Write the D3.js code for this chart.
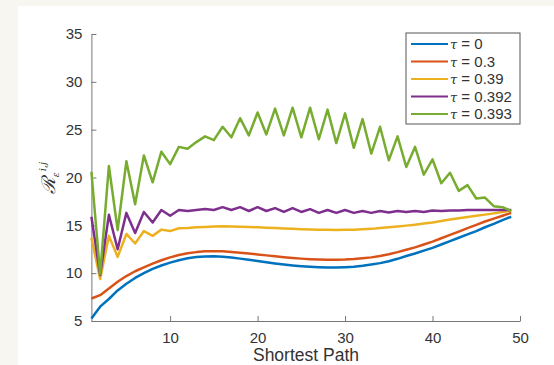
<!DOCTYPE html>
<html><head><meta charset="utf-8">
<script src="https://cdn.jsdelivr.net/npm/d3@7/dist/d3.min.js"></script>
<style>
html,body{margin:0;padding:0;background:#f8f6f1;}
svg{display:block;}
text{font-family:"Liberation Sans",Arial,sans-serif;}
</style></head>
<body>
<svg id="chart" width="554" height="365"></svg>
<script>
const xTicks = [10, 20, 30, 40, 50];
const yTicks = [5, 10, 15, 20, 25, 30, 35];
const xLabel = "Shortest Path";
const seriesNames = ["τ = 0", "τ = 0.3", "τ = 0.39", "τ = 0.392", "τ = 0.393"];
const seriesColors = ["#0072BD", "#D95319", "#EDB120", "#7E2F8E", "#77AC30"];
const pathLength = d3.range(1, 50); // 1..49

const tau0 = [5.25,6.5,7.3,8.2,8.9,9.5,10.0,10.45,10.8,11.1,11.35,11.55,11.68,11.75,11.77,11.72,11.63,11.52,11.4,11.28,11.15,11.02,10.9,10.8,10.72,10.66,10.62,10.6,10.6,10.63,10.68,10.77,10.9,11.05,11.25,11.5,11.8,12.05,12.35,12.65,13.0,13.35,13.7,14.05,14.4,14.8,15.15,15.55,15.9];
const tau03 = [7.35,7.7,8.4,9.1,9.7,10.2,10.6,11.0,11.35,11.65,11.9,12.08,12.2,12.28,12.3,12.28,12.22,12.14,12.05,11.96,11.86,11.76,11.67,11.59,11.52,11.46,11.42,11.4,11.4,11.42,11.47,11.55,11.65,11.8,11.98,12.2,12.45,12.7,13.0,13.3,13.65,14.0,14.35,14.7,15.05,15.4,15.7,16.0,16.3];
const tau039 = [13.7,9.4,13.9,11.7,14.1,13.1,14.4,13.9,14.55,14.4,14.7,14.72,14.8,14.83,14.87,14.9,14.88,14.86,14.83,14.8,14.76,14.72,14.68,14.64,14.6,14.57,14.55,14.53,14.52,14.53,14.55,14.58,14.63,14.72,14.8,14.88,14.97,15.07,15.18,15.3,15.45,15.6,15.75,15.88,16.0,16.12,16.25,16.4,16.55];
const tau0392 = [15.9,9.8,16.1,12.5,16.3,14.2,16.4,15.3,16.6,16.0,16.6,16.5,16.6,16.7,16.6,16.9,16.6,16.9,16.5,16.9,16.5,16.8,16.4,16.8,16.4,16.7,16.3,16.6,16.3,16.6,16.3,16.5,16.3,16.5,16.35,16.5,16.4,16.5,16.4,16.55,16.5,16.55,16.55,16.6,16.6,16.6,16.6,16.6,16.6];
const tau0393 = [20.6,9.9,21.2,14.5,21.7,17.2,22.3,19.5,22.7,21.4,23.2,23.0,23.7,24.3,23.9,25.3,24.2,26.2,24.4,26.8,24.5,27.2,24.4,27.3,24.2,27.3,24.0,27.1,23.6,26.7,23.1,26.1,22.5,25.3,21.8,24.3,21.1,23.2,20.3,21.9,19.4,20.5,18.6,19.2,17.8,17.9,17.0,16.9,16.5];

const seriesValues = [tau0, tau03, tau039, tau0392, tau0393];

const svg = d3.select("#chart");
// white panel
svg.append("rect").attr("x", 18).attr("y", 6).attr("width", 554 - 18).attr("height", 365 - 6).attr("fill", "#ffffff");

const x = d3.scaleLinear().domain([1, 50]).range([91.4, 520]);
const y = d3.scaleLinear().domain([5, 35]).range([321, 34]);

const axisColor = "#777";
const labelColor = "#333";

// x axis
const gx = svg.append("g").attr("transform", `translate(0,${y(5)})`)
  .call(d3.axisBottom(x).tickValues(xTicks).tickSize(-5).tickSizeOuter(0).tickPadding(9));
// y axis
const gy = svg.append("g").attr("transform", `translate(${x(1)},0)`)
  .call(d3.axisLeft(y).tickValues(yTicks).tickSize(-5).tickSizeOuter(0).tickPadding(9));
[gx, gy].forEach(g => {
  g.select(".domain").attr("stroke", axisColor).attr("stroke-width", 1);
  g.selectAll(".tick line").attr("stroke", axisColor);
  g.selectAll(".tick text").attr("fill", labelColor).attr("font-size", 15).attr("font-family", "Liberation Sans, Arial, sans-serif");
});
gx.selectAll(".tick text").attr("dy", "0.85em");

// lines
const line = d3.line().x((d, i) => x(pathLength[i])).y(d => y(d));
seriesValues.forEach((vals, k) => {
  svg.append("path").datum(vals)
    .attr("d", line)
    .attr("fill", "none")
    .attr("stroke", seriesColors[k])
    .attr("stroke-width", 2.5)
    .attr("stroke-linejoin", "round");
});

// x label
svg.append("text").attr("x", 306).attr("y", 361).attr("text-anchor", "middle")
  .attr("font-size", 17.5).attr("fill", labelColor).text(xLabel);

// y label (rotated)
const yl = svg.append("text").attr("transform", "translate(55,178) rotate(-90)")
  .attr("text-anchor", "middle").attr("fill", labelColor);
yl.append("tspan").attr("font-family", "DejaVu Serif, serif").attr("font-style", "italic").attr("font-size", 19).text("ℛ");
yl.append("tspan").attr("font-family", "DejaVu Serif, serif").attr("font-style", "italic").attr("font-size", 9).attr("dy", 4).text("ε");
yl.append("tspan").attr("font-family", "DejaVu Serif, serif").attr("font-style", "italic").attr("font-size", 10).attr("dy", -13).attr("dx", 1).text("i,j");

// legend
const lg = svg.append("g");
lg.append("rect").attr("x", 406).attr("y", 33).attr("width", 114).attr("height", 91)
  .attr("fill", "#fff").attr("stroke", "#555").attr("stroke-width", 1);
const legendY = d3.scalePoint().domain(seriesNames).range([44, 114]);
seriesNames.forEach((name, k) => {
  const yy = legendY(name);
  lg.append("line").attr("x1", 411).attr("x2", 448).attr("y1", yy).attr("y2", yy)
    .attr("stroke", seriesColors[k]).attr("stroke-width", 2.2);
  const t = lg.append("text").attr("x", 450).attr("y", yy).attr("dy", "0.36em")
    .attr("font-size", 15).attr("fill", labelColor);
  t.append("tspan").attr("font-style", "italic").attr("font-family", "DejaVu Serif, serif").attr("font-size", 13).text("τ");
  t.append("tspan").text(name.slice(1));
});
</script>
</body></html>
